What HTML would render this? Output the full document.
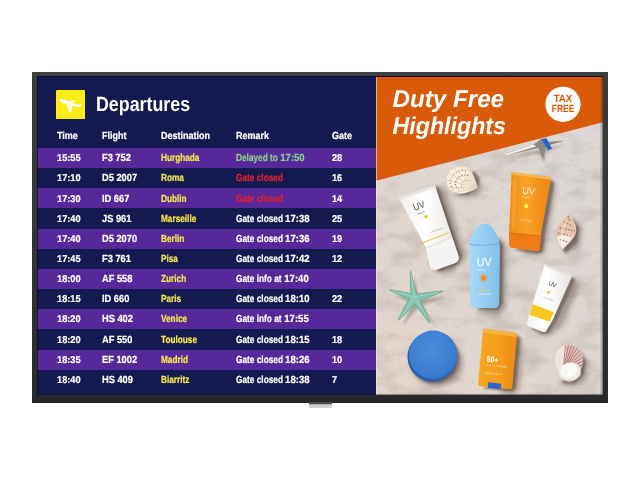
<!DOCTYPE html>
<html><head><meta charset="utf-8"><title>Departures display</title>
<style>
html,body{margin:0;padding:0;background:#fff;}
body{text-rendering:geometricPrecision;width:640px;height:480px;position:relative;overflow:hidden;font-family:"Liberation Sans",sans-serif;}
.frame{position:absolute;left:32px;top:72px;width:576px;height:330.5px;background:linear-gradient(#414244 0,#3a3b3d 2%,#333436 50%,#2a2a2c 97%,#262628 100%);}
.tab{position:absolute;left:308.5px;top:402px;width:23.5px;height:6px;background:linear-gradient(#444 0,#555 30%,#c8c8c8 45%,#d8d8d8 100%);}
.screen{position:absolute;left:37px;top:76px;width:565.7px;height:319.4px;background:#141a50;overflow:hidden;}
.left{position:absolute;left:0;top:.5px;width:339px;height:319px;background:#141a50;}
.ad{position:absolute;left:339px;top:.5px;width:226.7px;height:319px;background:#d8cfc9;overflow:hidden;}
.icon{position:absolute;left:18.7px;top:13.3px;width:29.2px;height:29.2px;}
.title{position:absolute;left:59.2px;top:16.4px;font-size:20.6px;font-weight:bold;color:#fff;white-space:nowrap;transform:scaleX(.865);transform-origin:0 0;line-height:24px;}
.hdr,.row{position:absolute;left:0;width:339px;height:20.18px;font-size:10.3px;font-weight:bold;color:#fff;line-height:20.18px;white-space:nowrap;}
.hdr{top:49px;}
.row.p{background:#57289a;}
.hdr span,.row span{-webkit-text-stroke-width:.22px;position:absolute;top:1.3px;transform:scaleX(.855);transform-origin:0 50%;}
.row .c1,.row .c2,.row .c5{transform:scaleX(.9);}
.row .c4{transform:scaleX(.805);}
.row .c3{transform:scaleX(.80);}
.row .c4 i{font-style:normal;display:inline-block;transform:scaleX(1.15);transform-origin:0 50%;}
.row .c1{font-size:9.9px;transform:scaleX(.935);}
.row .c5{font-size:9.9px;transform:scaleX(.93);}
.hdr span{transform:scaleX(.875);}
.c1{left:20.2px}.c2{left:64.8px}.c3{left:124px;color:#f6e84a}.c4{left:198.5px}.c5{left:294.5px}
.hdr .c3{color:#fff}
.hdr .c1{left:20.2px}
.g{color:#85cf8a}.r{color:#df2230}
.screen:after{content:"";position:absolute;left:0;top:0;right:0;bottom:0;box-shadow:inset 1px 1px 0 0 rgba(10,10,20,.7), inset -.5px -.5px 0 0 rgba(10,10,20,.5);pointer-events:none;}

</style></head><body>
<div class="frame"></div>
<div class="tab"></div>
<div class="screen">
<div class="left">
<svg class="icon" viewBox="0 0 29.2 29.2"><rect width="29.2" height="29.2" rx="1.3" fill="#fdec17"/><path d="M3.2,9.9 C3.6,8.8 5.5,8.700 7.5,9.3 L13.4,11.3 L17.4,9.9 L19.100,10.4 L16.8,12.7 L21.4,14.7 L24.6,13.5 L25.9,14.100 L24,16.900 C23,17.5 22,17.4 20.8,17.100 L16.3,15.800 L15.3,22.300 L13.300,22.700 L10.5,14.400 L5.500,12.2 C4,11.500 2.900,10.700 3.2,9.900 Z" fill="#fffef5"/></svg>
<div class="title">Departures</div>
<div class="hdr"><span class="c1">Time</span><span class="c2">Flight</span><span class="c3">Destination</span><span class="c4">Remark</span><span class="c5">Gate</span></div>
<div class="row p" style="top:71.5px"><span class="c1">15:55</span><span class="c2">F3 752</span><span class="c3">Hurghada</span><span class="c4 g">Delayed to <i>17:50</i></span><span class="c5">28</span></div>
<div class="row" style="top:91.65px"><span class="c1">17:10</span><span class="c2">D5 2007</span><span class="c3">Roma</span><span class="c4 r">Gate closed</span><span class="c5">16</span></div>
<div class="row p" style="top:111.8px"><span class="c1">17:30</span><span class="c2">ID 667</span><span class="c3">Dublin</span><span class="c4 r">Gate closed</span><span class="c5">14</span></div>
<div class="row" style="top:131.95px"><span class="c1">17:40</span><span class="c2">JS 961</span><span class="c3">Marseille</span><span class="c4 w">Gate closed <i>17:38</i></span><span class="c5">25</span></div>
<div class="row p" style="top:152.1px"><span class="c1">17:40</span><span class="c2">D5 2070</span><span class="c3">Berlin</span><span class="c4 w">Gate closed <i>17:36</i></span><span class="c5">19</span></div>
<div class="row" style="top:172.25px"><span class="c1">17:45</span><span class="c2">F3 761</span><span class="c3">Pisa</span><span class="c4 w">Gate closed <i>17:42</i></span><span class="c5">12</span></div>
<div class="row p" style="top:192.4px"><span class="c1">18:00</span><span class="c2">AF 558</span><span class="c3">Zurich</span><span class="c4 w">Gate info at <i>17:40</i></span><span class="c5"></span></div>
<div class="row" style="top:212.55px"><span class="c1">18:15</span><span class="c2">ID 660</span><span class="c3">Paris</span><span class="c4 w">Gate closed <i>18:10</i></span><span class="c5">22</span></div>
<div class="row p" style="top:232.7px"><span class="c1">18:20</span><span class="c2">HS 402</span><span class="c3">Venice</span><span class="c4 w">Gate info at <i>17:55</i></span><span class="c5"></span></div>
<div class="row" style="top:252.85px"><span class="c1">18:20</span><span class="c2">AF 550</span><span class="c3">Toulouse</span><span class="c4 w">Gate closed <i>18:15</i></span><span class="c5">18</span></div>
<div class="row p" style="top:273.0px"><span class="c1">18:35</span><span class="c2">EF 1002</span><span class="c3">Madrid</span><span class="c4 w">Gate closed <i>18:26</i></span><span class="c5">10</span></div>
<div class="row" style="top:293.15px"><span class="c1">18:40</span><span class="c2">HS 409</span><span class="c3">Biarritz</span><span class="c4 w">Gate closed <i>18:38</i></span><span class="c5">7</span></div>
</div>
<div class="ad">
<svg width="226.7" height="319" viewBox="376 76.5 226.7 319" style="position:absolute;left:0;top:0">
<defs>
<filter id="sandf" x="0" y="0" width="100%" height="100%"><feTurbulence type="fractalNoise" baseFrequency="0.9" numOctaves="2" seed="3" result="n"/><feColorMatrix type="matrix" values="0 0 0 0 0.45  0 0 0 0 0.40  0 0 0 0 0.38  0.9 0 0 0 -0.32"/></filter>
<filter id="dune" x="0" y="0" width="100%" height="100%"><feTurbulence type="fractalNoise" baseFrequency="0.035 0.06" numOctaves="3" seed="11"/><feColorMatrix type="matrix" values="0 0 0 0 0.45  0 0 0 0 0.38  0 0 0 0 0.35  1.2 0 0 0 -0.55"/></filter>
<filter id="b1"><feGaussianBlur stdDeviation="1.2"/></filter>
<filter id="b2"><feGaussianBlur stdDeviation="2.5"/></filter>
<filter id="b4"><feGaussianBlur stdDeviation="5"/></filter>
<linearGradient id="sandg" x1="1" y1="0" x2="0" y2="1"><stop offset="0" stop-color="#e0dcda"/><stop offset=".5" stop-color="#e2dad4"/><stop offset="1" stop-color="#e8dacf"/></linearGradient>
<linearGradient id="wt" x1="0" y1="0" x2="1" y2="0"><stop offset="0" stop-color="#f4f2ef"/><stop offset=".45" stop-color="#ffffff"/><stop offset="1" stop-color="#e6e2de"/></linearGradient>
<linearGradient id="ot" x1="0" y1="0" x2="1" y2="0"><stop offset="0" stop-color="#f08a18"/><stop offset=".4" stop-color="#f8a326"/><stop offset="1" stop-color="#ee8414"/></linearGradient>
<linearGradient id="bt" x1="0" y1="0" x2="1" y2="0"><stop offset="0" stop-color="#a6d9f7"/><stop offset=".5" stop-color="#95cdf1"/><stop offset="1" stop-color="#82bfe8"/></linearGradient>
<linearGradient id="st" x1="0" y1="0" x2="1" y2="0"><stop offset="0" stop-color="#f7a520"/><stop offset=".6" stop-color="#f59c1c"/><stop offset="1" stop-color="#ec8a14"/></linearGradient>
<radialGradient id="cp" cx=".45" cy=".4" r=".65"><stop offset="0" stop-color="#4a8cda"/><stop offset=".8" stop-color="#3b7ed0"/><stop offset="1" stop-color="#2f6cbc"/></radialGradient>
<linearGradient id="vignr" x1="0" y1="0" x2="1" y2="0"><stop offset="0" stop-color="#3a302c" stop-opacity="0"/><stop offset="1" stop-color="#3a302c" stop-opacity=".45"/></linearGradient>
<linearGradient id="vignb" x1="0" y1="0" x2="0" y2="1"><stop offset="0" stop-color="#3a302c" stop-opacity="0"/><stop offset="1" stop-color="#3a302c" stop-opacity=".4"/></linearGradient>
</defs>
<rect x="376" y="76.5" width="227" height="319" fill="url(#sandg)"/>
<rect x="376" y="76.5" width="227" height="319" filter="url(#dune)"/>
<rect x="376" y="76.5" width="227" height="319" filter="url(#sandf)" opacity=".55"/>
<g fill="#5d4a42" opacity=".42" filter="url(#b2)">
<path d="M436,186 L446,190 L466,258 L452,272 L436,272 Z"/>
<path d="M549,180 L556,184 L547,238 L544,254 L520,253 L538,240 Z"/>
<path d="M498,236 L506,246 L506,308 L498,316 L476,313 L490,304 Z"/>
<path d="M572,277 L580,284 L562,326 L548,336 L536,333 L552,320 Z"/>
<path d="M516,336 L523,342 L519,390 L512,394 L500,392 Z"/>
<ellipse cx="437" cy="362" rx="26" ry="24"/>
<path d="M572,216 L582,226 L580,246 L566,254 L562,248 Z"/>
<path d="M578,350 L588,360 L586,380 L572,386 L560,384 Z"/>
<path d="M470,172 L482,184 L476,196 L456,196 Z"/>
</g>
<g fill="#4f3f38" opacity=".55" filter="url(#b1)">
<path d="M435,186 L439,187 L462,256 L458,264 L440,271 L434,268 Z"/>
<path d="M550,179 L554.500,181 L544.500,236 L543,251 L538,253 L514,250 L538,240 Z"/>
<path d="M498,238 L503,244 L502.500,303 L499,309.500 L476,309.500 L492,300 Z"/>
<path d="M571,276 L575.500,279 L555.500,322 L549,332.500 L543,333.500 L531,328.500 L548,318 Z"/>
<path d="M516,334 L520.500,337 L515.500,388 L512,391 L482,388 L508,380 Z"/>
<path d="M572,218 L579.500,228 L577.500,241 L566,252.500 L562,248 Z"/>
<path d="M580,352 L585.500,360 L583.500,374 L575,383 L562,382.500 Z"/>
<path d="M474,170 L480,178 L478,186 L468,194 L458,194.500 Z"/>
<ellipse cx="434.500" cy="358.500" rx="25" ry="24.500"/>
</g>
<g fill="#6a564c" opacity=".4" filter="url(#b1)">
<path d="M412,272 L416,296 L444,293 L420,302 L434,324 L416,304 L400,322 L410,300 L390,292 L410,294 Z" transform="translate(2.500,3)"/>
<path d="M505,154 L538,146 L564,141 L543,149 L543,159 L537,150 Z" transform="translate(2,3)"/>
</g>

<!-- beige starfish + blue item -->
<g>
<path d="M504.400,153.800 L534,143.500 L538,141 L541,138 L545,141.500 L564.300,140.300 L546,145.500 L543,158.700 L538.500,147.500 L506,155 Z" fill="#8d8783"/>
<path d="M504.400,153.800 L533,143.800 L536.500,146 L506,155 Z" fill="#f3ece2"/>
<path d="M541.500,138.600 L546.500,137.800 L552,148 L548,149.800 Z" fill="#2e62c0"/>
</g>
<!-- scallop shell top -->
<g>
<path d="M477.500,187 C475,178 471.500,170 467,166.500 C462,164.800 455,165.800 450,169.800 C446,173.800 445,181 447.500,186.200 C450,190.800 456,193.200 461,193.200 C467,192.600 473,190.200 477.500,187 Z" fill="#f6eddd" stroke="#d8c8b2" stroke-width=".5"/>
<g stroke="#dcc9ad" stroke-width=".7" fill="none">
<path d="M476.800,187.300 L467,167"/><path d="M476.800,187.300 L460.500,165.600"/><path d="M476.800,187.300 L453.500,167.500"/><path d="M476.800,187.300 L448.300,172.500"/><path d="M476.800,187.300 L446,179.500"/><path d="M476.800,187.300 L448.200,187"/><path d="M476.800,187.300 L455,192.200"/>
</g>
<path d="M466,170 C459,169 452,173 450.500,181 C450,185 452,188.500 455,190" stroke="#8a5a36" stroke-width="1.300" fill="none" opacity=".7" stroke-dasharray="1 2.200"/>
<path d="M468.500,175 C463,173.500 457,176 455.500,182 C455,185 456.500,187.500 459,189" stroke="#8a5a36" stroke-width="1.300" fill="none" opacity=".75" stroke-dasharray="1.200 1.800"/>
<path d="M470.500,180 C466.500,178.500 462.500,180 461.500,184 C461.200,185.800 462,187.500 463.500,188.500" stroke="#9a6a46" stroke-width="1.100" fill="none" opacity=".65" stroke-dasharray="1 1.600"/>
</g>
<!-- white tube -->
<g>
<path d="M399,197.500 L434.800,184.500 L458.500,255.500 C459.500,259 458,261 455,262.500 L437,269 C434,270 431.500,269 430,266 L426,247 Z" fill="url(#wt)"/>
<path d="M399,197.500 L434.800,184.500 L435.600,187 L400.500,200 Z" fill="#e9e5e0"/>
<path d="M426.300,247 L452.200,237 L458.500,255.500 C459.500,259 458,261 455,262.500 L437,269 C434,270 431.500,269 430,266 Z" fill="#f6f4f2"/>
<path d="M426.300,247 L452.200,237" stroke="#d8d2cc" stroke-width=".8"/>
<path d="M421,242.800 L448.500,232.500" stroke="#f2c230" stroke-width="1"/>
<text x="414.500" y="210.500" font-family="Liberation Sans, sans-serif" font-size="9.500" fill="#4a463f" transform="rotate(-20 414.500 210.500)" textLength="12" lengthAdjust="spacingAndGlyphs">UV</text>
<text x="417.500" y="214.500" font-family="Liberation Sans, sans-serif" font-size="2.200" fill="#6a665f" transform="rotate(-20 417.500 214.500)">SHIELD</text>
<circle cx="426" cy="216.300" r="1.800" fill="#f6c21c"/>
<text x="431" y="232.500" font-family="Liberation Sans, sans-serif" font-size="2" fill="#8a857d" transform="rotate(-20 431 232.500)">SUNSCREEN</text>
</g>
<!-- orange tube -->
<g>
<path d="M511.600,171.500 L551.200,176.700 L541,233.500 L539.800,247.500 C539.500,250 538,251 535.500,250.600 L512,247.300 C510,247 509.200,245.800 509.300,243.500 L509,232.500 Z" fill="url(#ot)"/>
<path d="M511.600,171.500 L551.200,176.700 L550.700,179.300 L511.500,174.100 Z" fill="#f9b650"/>
<path d="M509,232.500 L541,235.500 L539.800,247.500 C539.500,250 538,251 535.500,250.600 L512,247.300 C510,247 509.200,245.800 509.300,243.500 Z" fill="#ec7b18"/>
<path d="M509,232.500 L541,235.500" stroke="#d96c10" stroke-width=".9"/>
<path d="M515,178 L513,228" stroke="#fcc060" stroke-width="2.500" opacity=".45" filter="url(#b1)"/>
<text x="522" y="193.200" font-family="Liberation Sans, sans-serif" font-size="10" fill="#fff5e6" transform="rotate(6 522 193.200)" textLength="12.500" lengthAdjust="spacingAndGlyphs">UV</text>
<text x="522" y="197" font-family="Liberation Sans, sans-serif" font-size="2.200" fill="#fff0da" transform="rotate(6 522 197)">SHIELD</text>
<circle cx="526.200" cy="205.400" r="2.100" fill="#fff04a"/>
<text x="519.500" y="220" font-family="Liberation Sans, sans-serif" font-size="2" fill="#fde3bd" transform="rotate(6 519.500 220)">SUNSCREEN</text>
</g>
<!-- conch -->
<g>
<path d="M569,213 C571.500,217.500 577,223 576.300,230.500 C575.500,238 568,243.500 562.500,249 C560,244.500 555.800,238.500 556,232 C556.300,225 563.500,219.500 569,213 Z" fill="#e6c3ad"/>
<path d="M573,235 C570,241 566,245 562.500,249 C560.500,245.500 558,241 556.800,236.500 C562,234 568,233.500 573,235 Z" fill="#f3ebe3"/>
<path d="M568,216 L570,221 M564,221.500 L572.500,225.500 M559.500,227 L575,230.500 M558,232.500 L572,236 M560,239 L567.500,241.500" stroke="#7a4a30" stroke-width="1.300" fill="none" opacity=".65" stroke-dasharray="1.600 1.400"/>
<path d="M566,222 C562,228 560.500,236 562.500,246" stroke="#fff6ee" stroke-width="1.200" fill="none" opacity=".7"/>
</g>
<!-- blue bottle -->
<g>
<path d="M485,223.300 C489,223.300 492.500,226.500 495,231 C497.500,235.500 499,239.500 499.500,243 C499.900,246 499.900,247 499.900,250 L499.200,302 C499.200,305.800 497.200,307.700 494,307.700 L475,307.200 C472,307.200 470.500,305.300 470.400,302 L469.500,248 C469.500,245.500 469.600,243.500 470.300,240.500 C471.300,236.500 473.500,231.500 476.500,227.800 C479,224.800 481.500,223.300 485,223.300 Z" fill="url(#bt)"/>
<path d="M469.800,243.800 C479,245.600 490,244.800 499.500,243" stroke="#69a9da" stroke-width=".9" fill="none"/>
<path d="M471.500,250 L472.500,301" stroke="#a9dbf8" stroke-width="1.600" opacity=".7"/>
<text x="476.800" y="266" font-family="Liberation Sans, sans-serif" font-size="12" fill="#ffffff" textLength="15" lengthAdjust="spacingAndGlyphs">UV</text>
<text x="477" y="270.500" font-family="Liberation Sans, sans-serif" font-size="2.400" fill="#eaf6ff">SHIELD</text>
<circle cx="483.500" cy="277.500" r="2.700" fill="#f28c1a"/>
<circle cx="483.500" cy="277.500" r="3.900" fill="none" stroke="#f28c1a" stroke-width=".8" stroke-dasharray=".8 1"/>
<path d="M477,290 L489,290" stroke="#f5c64a" stroke-width=".7"/>
<text x="477" y="294.500" font-family="Liberation Sans, sans-serif" font-size="2.200" fill="#eaf6ff">SUNSCREEN</text>
</g>
<!-- small white tube -->
<g>
<path d="M544.800,263.800 L572.300,275 L552.500,320 L546.500,330 C545.500,331.500 544,332 542.300,331.300 L529,326 C527.300,325.300 526.800,324 527.300,322.300 L531,307.500 Z" fill="url(#wt)"/>
<path d="M544.800,263.800 L572.300,275 L571.500,277 L544,265.800 Z" fill="#e6e2dd"/>
<path d="M532.300,303.500 L553.700,311.500 L549.800,321.300 L529.700,314.500 Z" fill="#f7c81e"/>
<text x="548" y="284.500" font-family="Liberation Sans, sans-serif" font-size="6.500" fill="#4a463f" transform="rotate(22 548 284.500)" textLength="8" lengthAdjust="spacingAndGlyphs">UV</text>
<circle cx="548.500" cy="291.800" r="1.500" fill="#f6c21c"/>
<text x="543" y="297" font-family="Liberation Sans, sans-serif" font-size="1.800" fill="#8a857d" transform="rotate(22 543 297)">SUNSCREEN</text>
</g>
<!-- teal starfish -->
<g>
<path d="M410.400,270.200 C412,276 414.500,286 417,293.500 C425,292.500 436,291 443,290.600 C437,294 426,298 420.500,300.500 C423.500,307 428,317 430,322.700 C425,317 418.500,308 415,303.500 C410,309 402,317 397.900,319.800 C401,313 406.500,303 409,298.500 C402.500,296 394,292 389.100,289.200 C396,289.800 405.500,292 411,293 C410.500,285 410,276 410.400,270.200 Z" fill="#84c3ad" stroke="#63a08c" stroke-width=".7" stroke-linejoin="round"/>
<path d="M411.200,276 L414.500,296.500 L438,291.800 M414.500,296.500 L427.500,318 M414.500,296.500 L401,316.500 M414.500,296.500 L393,290.500" stroke="#a6dac6" stroke-width="1" fill="none" opacity=".8"/>
</g>
<!-- blue compact -->
<g>
<ellipse cx="432.300" cy="356.300" rx="24.800" ry="24.800" fill="#2a5fae"/>
<ellipse cx="433.200" cy="354.400" rx="24.300" ry="24.300" fill="url(#cp)"/>
</g>
<!-- orange stick -->
<g>
<path d="M485.200,328.300 L515,332.300 C516.500,332.500 517.200,333.500 517,335 L512.300,386.500 C512.100,388.300 511,389 509.300,388.800 L480.500,385.800 C478.800,385.600 478,384.500 478.200,382.800 L483,330 C483.200,328.600 484,328.100 485.200,328.300 Z" fill="url(#st)"/>
<path d="M485.200,328.300 L515,332.300 C516.500,332.500 517.200,333.500 517,335 L516.800,336.500 L483,332 L483.200,330 C483.300,328.600 484,328.100 485.200,328.300 Z" fill="#f9b548" opacity=".8"/>
<path d="M488.300,381.800 L501.300,383.200 L500.800,388.700 L487.800,387.300 Z" fill="#2d6bd2"/>
<path d="M490,382.500 L489.700,387.300 M492.500,382.700 L492.200,387.600 M495,383 L494.700,387.900 M497.500,383.300 L497.200,388.200" stroke="#1d4fa8" stroke-width=".7"/>
<text x="486.500" y="361.500" font-family="Liberation Sans, sans-serif" font-weight="bold" font-size="8.500" fill="#ffffff" transform="rotate(5 486.500 361.500)" textLength="11.500" lengthAdjust="spacingAndGlyphs">50+</text>
<text x="486.300" y="365.500" font-family="Liberation Sans, sans-serif" font-size="2.200" fill="#fff1d8" transform="rotate(5 486.300 365.500)">DAILY SUNSCREEN</text>
<text x="485.600" y="373.500" font-family="Liberation Sans, sans-serif" font-size="2.200" fill="#fff1d8" transform="rotate(5 485.600 373.500)">SPF50+ PA++++</text>
</g>
<!-- shells bottom right -->
<g>
<path d="M556,368 C552,359 554.500,348.500 563,345 C571,342.500 580,347 582.500,355 C584,361 582.500,367 579,371 L562,374 C559,372.500 557,370.500 556,368 Z" fill="#f0e2dc" stroke="#cdb3a8" stroke-width=".4"/>
<path d="M566,345 C573,343.500 580.500,348 582.500,355 C584,361 582.500,367 579,371 L568,372 Z" fill="#d9a9a2" opacity=".6"/>
<g stroke="#8c4a4c" stroke-width=".8" fill="none" opacity=".8">
<path d="M563,371 L565.500,345.500"/><path d="M563,371 L568.500,344.800"/><path d="M563,371 L571.500,345"/><path d="M563,371 L574.500,346"/><path d="M563,371 L577,347.800"/><path d="M563,371 L579.500,350"/><path d="M563,371 L581.300,353"/><path d="M563,371 L582.800,356.500"/><path d="M563,371 L583.300,360.500"/><path d="M563,371 L582.800,364.500"/>
</g>
<g stroke="#f4e6e0" stroke-width=".6" fill="none" opacity=".9">
<path d="M563,371 L556,354"/><path d="M563,371 L558.500,348.500"/><path d="M563,371 L562,345.800"/>
</g>
<ellipse cx="570" cy="371.500" rx="11" ry="9.600" fill="#efeae3" transform="rotate(-15 570 371.500)"/>
<ellipse cx="568.800" cy="370" rx="8.500" ry="7" fill="#fbf9f6" transform="rotate(-15 568.800 370)"/>
<path d="M560.500,377.500 C566,382 576,381 580.800,374" stroke="#cfc5ba" stroke-width="1" fill="none"/>
</g>

<path d="M376,76.500 L603,76.500 L603,121.800 L376,180.300 Z" fill="#d95b0a"/>
<circle cx="563" cy="103.800" r="17.600" fill="#ffffff"/>
<text x="553.700" y="101.500" font-family="Liberation Sans, sans-serif" font-weight="bold" font-size="10.500" fill="#d95b0a" textLength="18.600" lengthAdjust="spacingAndGlyphs">TAX</text>
<text x="551.800" y="111.400" font-family="Liberation Sans, sans-serif" font-weight="bold" font-size="10.500" fill="#d95b0a" textLength="22.500" lengthAdjust="spacingAndGlyphs">FREE</text>
<text x="392.500" y="106.400" font-family="Liberation Sans, sans-serif" font-weight="bold" font-style="italic" font-size="24.200" fill="#ffffff">Duty Free</text>
<text x="392.500" y="133.800" font-family="Liberation Sans, sans-serif" font-weight="bold" font-style="italic" font-size="24.200" fill="#ffffff" textLength="113.500" lengthAdjust="spacingAndGlyphs">Highlights</text>

<rect x="599.700" y="76.500" width="3" height="319" fill="url(#vignr)"/>
<rect x="376" y="392.500" width="227" height="3" fill="url(#vignb)"/>
<rect x="376" y="180" width=".8" height="216" fill="#efe6ee" opacity=".8"/>
<rect x="376" y="76.500" width=".8" height="104" fill="#ffd2b4" opacity=".85"/>
</svg>

</div>
</div>
</body></html>
